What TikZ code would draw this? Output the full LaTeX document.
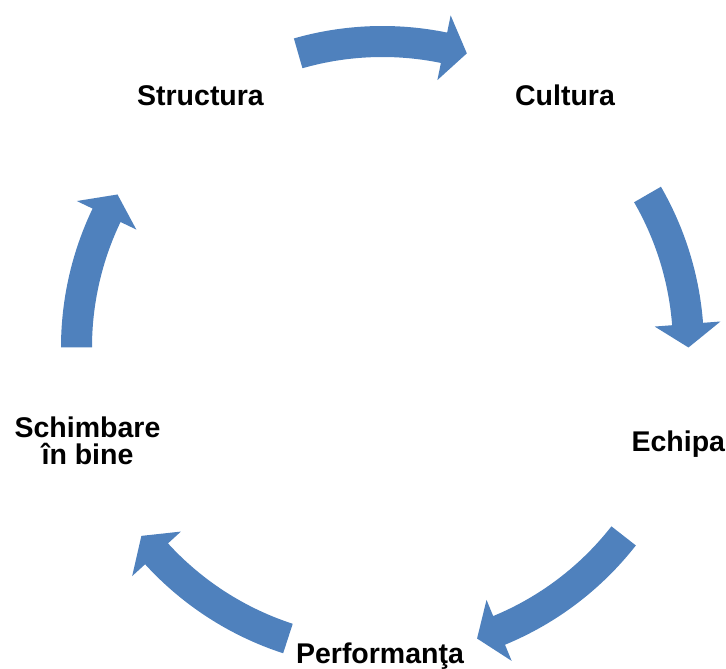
\documentclass[tikz,border=0pt]{standalone}
\usepackage{fontspec}
\setmainfont{Liberation Sans}
\usetikzlibrary{calc}
\definecolor{cycleblue}{RGB}{79,129,189}

% curved block arrow on the ring: #1 = tail angle, #2 = tip angle
\newcommand{\cyclearrow}[2]{%
    \pgfmathsetmacro{\headang}{#2+4.4}
    \fill[cycleblue] ($(hub)+(#1:321.5)$) arc[start angle=#1, end angle=\headang, radius=321.5]
        -- ($(hub)+(\headang:339)$) -- ($(hub)+(#2:306)$) -- ($(hub)+(\headang:273)$)
        -- ($(hub)+(\headang:290.5)$) arc[start angle=\headang, end angle=#1, radius=290.5]
        -- cycle;}

\begin{document}
\begin{tikzpicture}[x=1pt, y=1pt,
        stage/.style={inner sep=0pt, anchor=base, align=center,
            font=\bfseries\fontsize{28.5}{27}\selectfont}]

    \useasboundingbox (0,0) rectangle (726,669);
    \coordinate (hub) at (382.5,321.5);

    \node[stage] (structura)   at (200.5,563.5) {Structura};
    \node[stage] (cultura)     at (565,563.5)   {Cultura};
    \node[stage] (echipa)      at (678.3,217.3) {Echipa};
    \node[stage] (performanta) at (380,5)       {Performanţa};
    \node[stage] (schimbare)   at (87.5,204)    {Schimbare\\în bine};

    \cyclearrow{106}{74}
    \cyclearrow{30}{0}
    \cyclearrow{-38}{-72}
    \cyclearrow{-108}{-142}
    \cyclearrow{180}{150}
\end{tikzpicture}
\end{document}
